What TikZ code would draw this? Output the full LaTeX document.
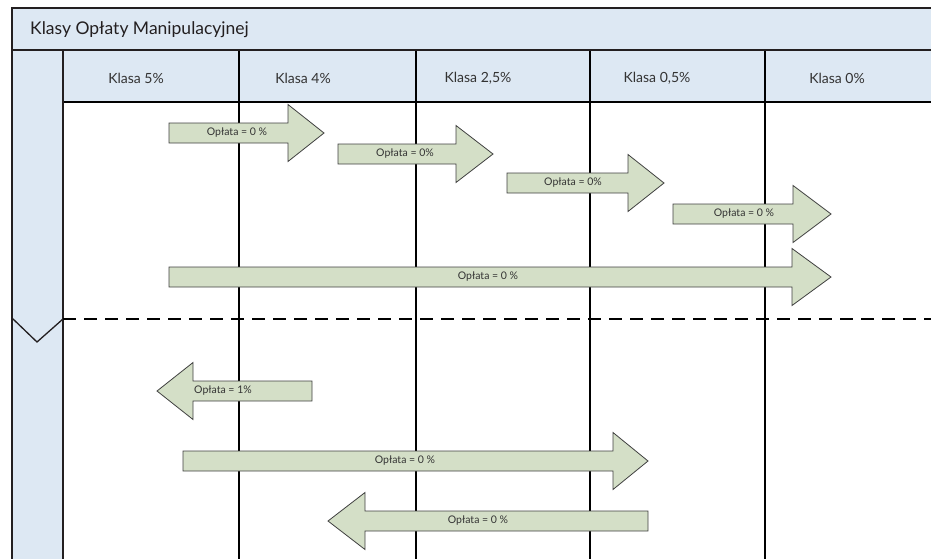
\documentclass[tikz,border=0pt]{standalone}
\usepackage{fontspec}
\setmainfont{Lato}

\definecolor{lanefill}{HTML}{DDE8F3}
\definecolor{arrowfill}{HTML}{D4DFC7}
\definecolor{framecol}{HTML}{231F20}
\definecolor{textcol}{HTML}{333333}

\tikzset{
	frame/.style={draw=framecol, line width=1.6pt},
	lane/.style={draw=black, line width=1.1pt},
	feearrow/.style={draw=black!75, fill=arrowfill, line width=0.8pt, line join=miter},
	feelabel/.style={font=\fontsize{10.5}{12}\selectfont, text=textcol, inner sep=0pt},
	classlabel/.style={font=\fontsize{14}{16}\selectfont, text=textcol, inner sep=0pt},
}

% fee arrow: name, tail x, head base x, tip x, y, label x, label
\newcommand{\feearrow}[7]{%
	\draw[feearrow] (#2,#5-10) -- (#3,#5-10) -- (#3,#5-28.5) -- (#4,#5)
	-- (#3,#5+28.5) -- (#3,#5+10) -- (#2,#5+10) -- cycle;
	\node[feelabel] (#1) at (#6,#5) {#7};
}

\begin{document}
\begin{tikzpicture}[x=1pt, y=-1pt]
	\useasboundingbox (0,0) rectangle (931,558);
	% background bands
	\fill[lanefill] (12,8) rectangle (940,50);
	\fill[lanefill] (12,50) rectangle (63,570);
	\fill[lanefill] (63,50) rectangle (940,102);
	% title
	\node[anchor=west, font=\fontsize{17.5}{19}\selectfont, text=framecol, inner sep=0pt] (title) at (30,30) {Klasy Opłaty Manipulacyjnej};
	% class lanes
	\foreach \x in {239,416,590,765}
		\draw[lane] (\x,50) -- (\x,570);
	\draw[lane] (63,102) -- (940,102);
	\node[classlabel] (k5) at (136,78) {Klasa 5\%};
	\node[classlabel] (k4) at (303,78) {Klasa 4\%};
	\node[classlabel] (k25) at (478,78) {Klasa 2,5\%};
	\node[classlabel] (k05) at (657,78) {Klasa 0,5\%};
	\node[classlabel] (k0) at (837,78) {Klasa 0\%};
	% frame
	\draw[frame] (940,8) -- (12,8) -- (12,570);
	\draw[frame] (12,50) -- (940,50);
	\draw[frame] (63,50) -- (63,570);
	% split between the two parts
	\draw[lane, dash pattern=on 13pt off 8pt] (63,319) -- (935,319);
	\draw[frame, line width=1.3pt] (12,318) -- (37,342) -- (63,319);
	% upper part
	\feearrow{a1}{169}{288}{324}{133}{237}{Opłata = 0 \%}
	\feearrow{a2}{338}{456}{493}{154}{405}{Opłata = 0\%}
	\feearrow{a3}{507}{628}{664}{183}{573}{Opłata = 0\%}
	\feearrow{a4}{673}{793}{831}{214}{744}{Opłata = 0 \%}
	\feearrow{a5}{169}{792}{831}{277}{488}{Opłata = 0 \%}
	% lower part
	\feearrow{b1}{312}{193}{157}{391}{223}{Opłata = 1\%}
	\feearrow{b2}{183}{613}{648}{461}{405}{Opłata = 0 \%}
	\feearrow{b3}{648}{365}{328}{521}{478}{Opłata = 0 \%}
\end{tikzpicture}
\end{document}
